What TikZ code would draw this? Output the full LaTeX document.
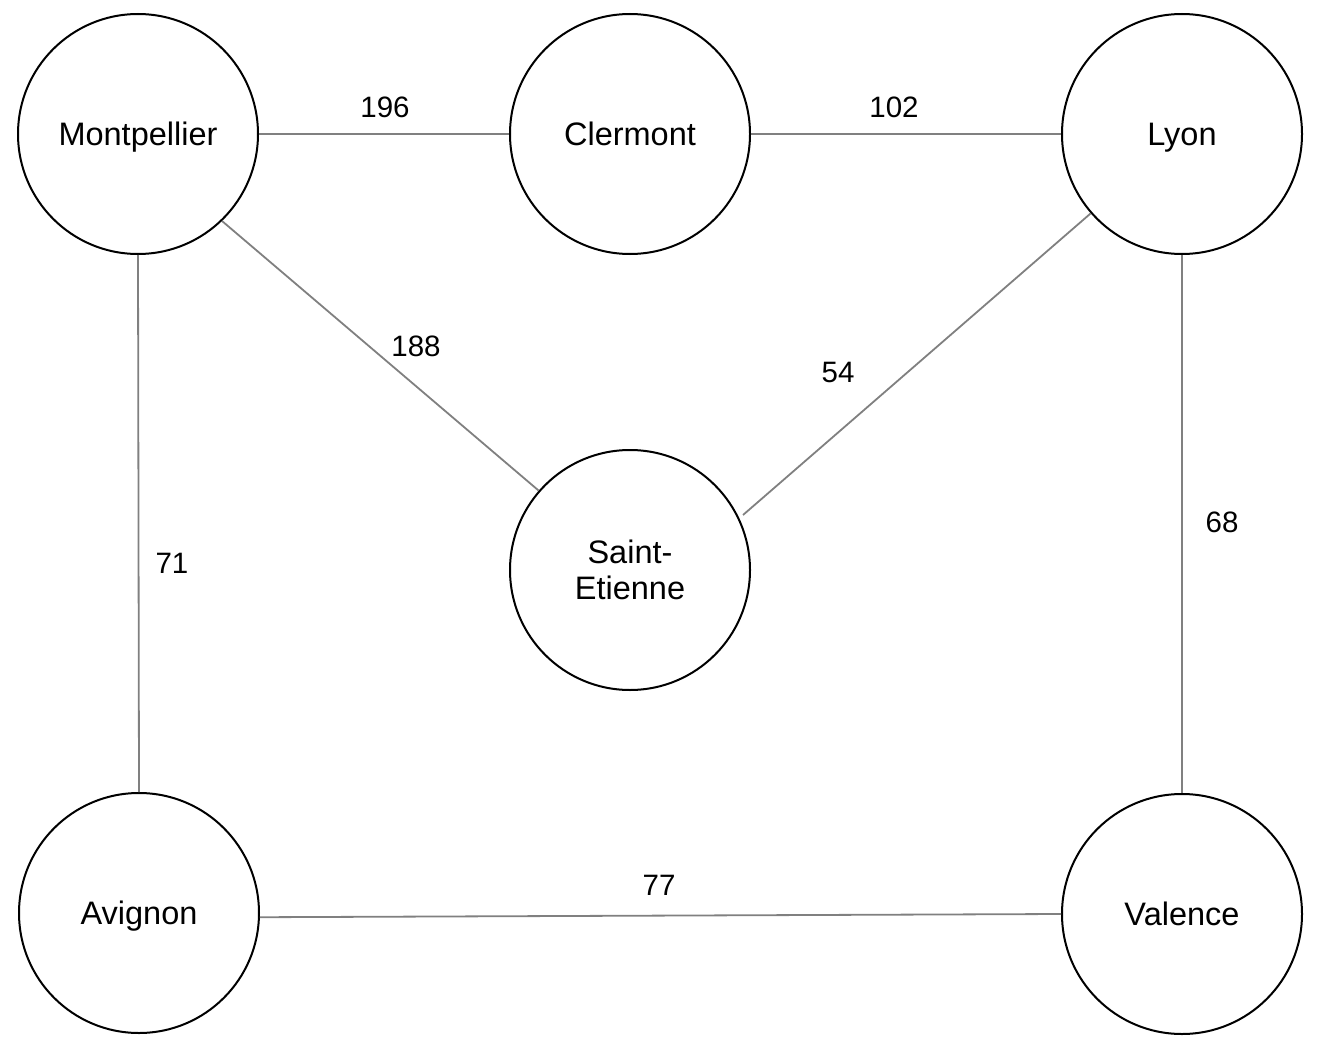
\documentclass[tikz,border=0pt]{standalone}
\usepackage{fontspec}
\setmainfont{Liberation Sans}
\usetikzlibrary{calc}
\begin{document}
\begin{tikzpicture}[x=1pt,y=-1pt,
  city/.style={circle,draw=black,line width=2pt,minimum size=240pt,inner sep=0pt,
    font=\fontsize{32.5}{36.3}\selectfont,align=center},
  one/.style={text height=29.8pt,text depth=6.5pt},
  road/.style={draw=black!50,line width=1.8pt},
  dist/.style={font=\fontsize{29.5}{36}\selectfont,inner sep=0pt}]
\useasboundingbox (0,0) rectangle (1326,1054);
\node[city,one] (mont) at (138,134) {Montpellier};
\node[city,one] (cle) at (630,134) {Clermont};
\node[city,one] (lyon) at (1182,134) {Lyon};
\node[city] (se) at (630,570) {Saint-\\Etienne};
\node[city,one] (avi) at (139,913) {Avignon};
\node[city,one] (val) at (1182,914) {Valence};
\coordinate (seNE) at ($(se.center)+(113,-55)$);
\draw[road] (mont.east) -- (cle.west);
\draw[road] (cle.east) -- (lyon.west);
\draw[road] (mont.-46.5) -- (se.139.5);
\draw[road] (lyon.-139) -- (seNE);
\draw[road] (mont.south) -- (avi.north);
\draw[road] (lyon.south) -- (val.north);
\draw[road] (avi.-2.5) -- (val.west);
\node[dist] (d196) at (385,107) {196};
\node[dist] (d102) at (894,107) {102};
\node[dist] (d188) at (416,346) {188};
\node[dist] (d54) at (838,372) {54};
\node[dist] (d71) at (172,563) {71};
\node[dist] (d68) at (1222,522) {68};
\node[dist] (d77) at (659,885) {77};
\end{tikzpicture}
\end{document}
